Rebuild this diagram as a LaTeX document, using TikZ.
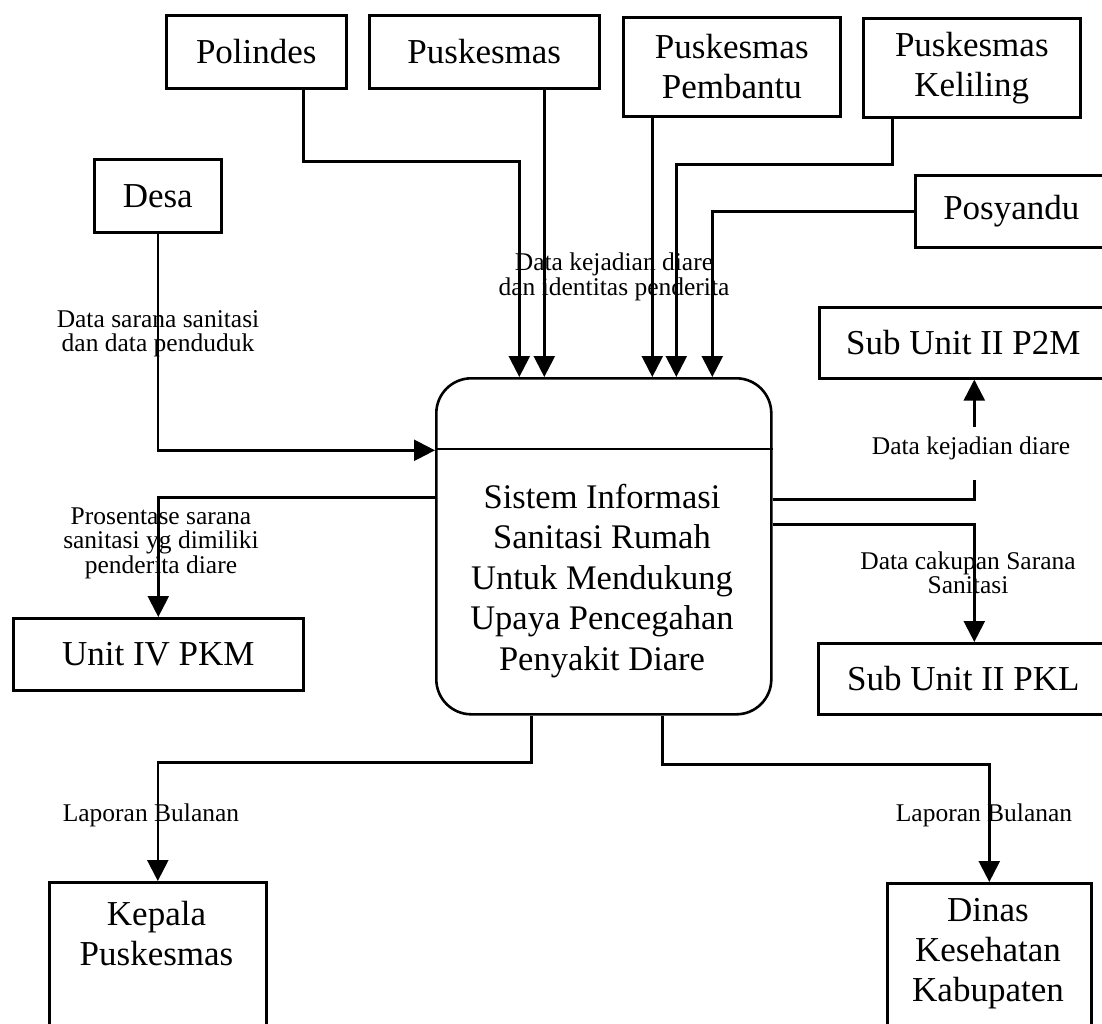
\documentclass[tikz,border=0pt]{standalone}
\usepackage{fontspec}
\setmainfont{Liberation Serif}
\usetikzlibrary{arrows.meta}
\newcommand\entfont{\fontsize{35}{40}\selectfont}
\newcommand\sysfont{\fontsize{34.5}{40.5}\selectfont}
\newcommand\lblfont{\fontsize{25.5}{24.5}\selectfont}

\begin{document}
\begin{tikzpicture}[x=1pt,y=-1pt,
  ent/.style={draw, line width=2.6pt, inner sep=0pt, font=\entfont, align=center, anchor=north west},
  flow/.style={line width=2.4pt, -{Triangle[width=21pt,length=21pt]}},
  lbl/.style={font=\lblfont, align=center, inner sep=0pt},
]
\useasboundingbox (0,0) rectangle (1102,1023);
\fill[white] (0,0) rectangle (1102,1023);
\clip (0,0) rectangle (1102,1023);

% external entities
\node[ent, minimum width=180pt, minimum height=73pt] (pol) at (165,14) {Polindes};
\node[ent, minimum width=230pt, minimum height=73pt] (pus) at (368,14) {Puskesmas};
\node[ent, minimum width=217pt, minimum height=99pt] (pem) at (622,16) {Puskesmas\\Pembantu};
\node[ent, minimum width=217pt, minimum height=99pt] (kel) at (862,17) {Puskesmas\\Keliling};
\node[ent, minimum width=192pt, minimum height=72pt] (posy) at (914,174) {Posyandu};
\node[ent, minimum width=127pt, minimum height=73pt] (desa) at (93,158) {Desa};
\node[ent, minimum width=288pt, minimum height=71pt] (p2m) at (818,306) {Sub Unit II P2M};
\node[ent, minimum width=290pt, minimum height=71pt] (pkl) at (817,642) {Sub Unit II PKL};
\node[ent, minimum width=290pt, minimum height=72pt] (pkm) at (12,617) {Unit IV PKM};
\node[ent, minimum width=217pt, minimum height=180pt] (kep) at (48,881) {};
\node[font=\entfont, align=center] (keptxt) at (156.5,934) {Kepala\\Puskesmas};
\node[ent, minimum width=204pt, minimum height=180pt] (din) at (886,882) {};
\node[font=\entfont, align=center] (dintxt) at (988,954) {Dinas\\Kesehatan\\Kabupaten};

% the process
\node[draw, line width=2.6pt, rounded corners=35pt, minimum width=335pt, minimum height=336pt,
      anchor=north west] (main) at (435,377) {};
\draw[line width=2.6pt] ([yshift=-72pt]main.north west) -- ([yshift=-72pt]main.north east);
\node[font=\sysfont, align=center] (maintxt) at (602,581)
  {Sistem Informasi\\Sanitasi Rumah\\Untuk Mendukung\\Upaya Pencegahan\\Penyakit Diare};

% incoming flows
\draw[flow] ([xshift=47pt]pol.south) -- ++(0,72) -| ([xshift=-84.5pt]main.north);
\draw[flow] ([xshift=60pt]pus.south) -- ([xshift=-59.5pt]main.north);
\draw[flow] ([xshift=-79.5pt]pem.south) -- ([xshift=48.5pt]main.north);
\draw[flow] ([xshift=-79.5pt]kel.south) -- ++(0,46) -| ([xshift=72.5pt]main.north);
\draw[flow] (posy.west) -| ([xshift=108.5pt]main.north);
\draw[flow] (desa.south) |- ([yshift=96pt]main.west);

% outgoing flows
\draw[flow] ([yshift=49pt]main.west) -| (pkm.north);
\draw[flow] ([yshift=47pt]main.east) -| ([xshift=11pt]p2m.south);
\draw[flow] ([yshift=22pt]main.east) -| ([xshift=11pt]pkl.north);
\draw[flow] ([xshift=-72.5pt]main.south) -- ++(0,47) -| (kep.north);
\draw[flow] ([xshift=58.5pt]main.south) -- ++(0,49) -| (din.north);

% flow labels
\node[lbl] (lkej) at (614,277) {Data kejadian diare\\dan identitas penderita};
\node[lbl] (lsar) at (158,334) {Data sarana sanitasi\\dan data penduduk};
\node[lbl] (lpros) at (161,543) {Prosentase sarana\\sanitasi yg dimiliki\\penderita diare};
\node[lbl, fill=white, anchor=base, text height=27pt, text depth=26pt] (lp2m) at (971,454) {Data kejadian diare};
\node[lbl] (lcak) at (968,573) {Data cakupan Sarana\\Sanitasi};
\node[lbl] (llap1) at (151,815) {Laporan Bulanan};
\node[lbl] (llap2) at (984,815) {Laporan Bulanan};
\end{tikzpicture}
\end{document}
